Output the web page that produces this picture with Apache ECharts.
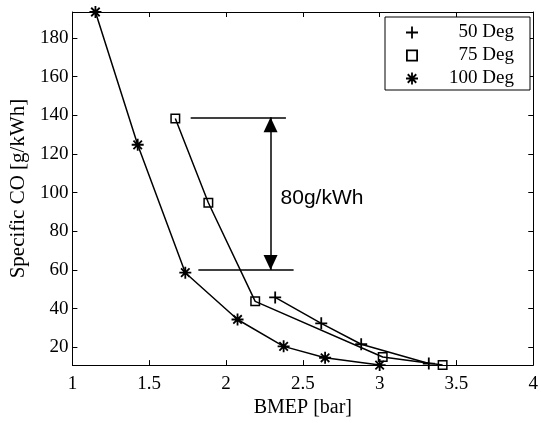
<!DOCTYPE html>
<html>
<head>
<meta charset="utf-8">
<script src="https://cdn.jsdelivr.net/npm/echarts@6/dist/echarts.min.js"></script>
<style>html,body{margin:0;padding:0;background:#fff;}#c{width:541px;height:423px;}</style>
</head>
<body>
<div id="c"></div>
<script>
// ---- data ----
const seriesNames = ['50 Deg', '75 Deg', '100 Deg'];
const bmep50 = [2.32, 2.62, 2.88, 3.32];
const co50 = [45.8, 32.4, 21.6, 11.6];
const bmep75 = [1.67, 1.885, 2.19, 3.02, 3.41];
const co75 = [138.4, 94.8, 43.8, 15.0, 10.8];
const bmep100 = [1.15, 1.425, 1.735, 2.075, 2.375, 2.645, 3.0];
const co100 = [193.5, 124.8, 58.6, 34.4, 20.5, 14.6, 10.8];
const yTicks = [20, 40, 60, 80, 100, 120, 140, 160, 180];
// annotation (data units)
const annoTopY = 139, annoBottomY = 60;
const annoTopX = [1.77, 2.39];
const annoBottomX = [1.82, 2.44];
const annoArrowX = 2.29;
const annoText = '80g/kWh';
const annoTextPos = [2.355, 97];

const pts = (xs, ys) => xs.map((x, i) => [x, ys[i]]);
const allY = co50.concat(co75, co100);
const yMin = Math.min.apply(null, allY);
const yMax = Math.max.apply(null, allY);

const SYM_PLUS = 'path://M5.1 0H6.9V5.1H12V6.9H6.9V12H5.1V6.9H0V5.1H5.1Z';
const SYM_SQ = 'path://M0 0H10V10H0Z M1.5 1.5V8.5H8.5V1.5Z';
const SYM_STAR = 'path://M5.1 0H6.9V5.1H12V6.9H6.9V12H5.1V6.9H0V5.1H5.1Z' +
  ' M1.121 2.393L2.393 1.121L10.879 9.607L9.607 10.879Z' +
  ' M10.879 2.393L2.393 10.879L1.121 9.607L9.607 1.121Z';
const symbols = [SYM_PLUS, SYM_SQ, SYM_STAR];
const symSizes = [12, 10, 12];

const serif = 'Liberation Serif';
const chart = echarts.init(document.getElementById('c'));

const axisCommon = {
  axisLine: { show: true, onZero: false, lineStyle: { color: '#000', width: 1 } },
  axisTick: { inside: true, length: 5, lineStyle: { color: '#000', width: 1 } },
  splitLine: { show: false }
};

const lineSeries = (name, data, idx, extra) => Object.assign({
  name: name,
  type: 'line',
  data: data,
  symbol: symbols[idx],
  symbolSize: symSizes[idx],
  showAllSymbol: true,
  lineStyle: { color: '#000', width: 1.5 },
  itemStyle: { color: '#000' },
  animation: false,
  z: 3
}, extra || {});

chart.setOption({
  animation: false,
  backgroundColor: '#fff',
  grid: { left: 68, right: 6, top: 12, bottom: 44, containLabel: false },
  xAxis: [
    Object.assign({}, axisCommon, {
      type: 'value', min: 1, max: 4, interval: 0.5, position: 'bottom',
      axisLabel: { color: '#000', fontFamily: serif, fontSize: 19, margin: 9 },
      name: 'BMEP [bar]', nameLocation: 'middle', nameGap: 28,
      nameTextStyle: { color: '#000', fontFamily: serif, fontSize: 20 }
    }),
    Object.assign({}, axisCommon, {
      type: 'value', min: 1, max: 4, interval: 0.5, position: 'top',
      axisLabel: { show: false }
    })
  ],
  yAxis: [
    Object.assign({}, axisCommon, {
      type: 'value', min: yMin, max: yMax, position: 'left',
      axisTick: Object.assign({}, axisCommon.axisTick, { customValues: yTicks }),
      axisLabel: { color: '#000', fontFamily: serif, fontSize: 19, margin: 4, customValues: yTicks },
      name: 'Specific CO [g/kWh]', nameLocation: 'middle', nameGap: 31,
      nameTextStyle: { color: '#000', fontFamily: serif, fontSize: 21 }
    }),
    Object.assign({}, axisCommon, {
      type: 'value', min: yMin, max: yMax, position: 'right',
      axisTick: Object.assign({}, axisCommon.axisTick, { customValues: yTicks }),
      axisLabel: { show: false, customValues: yTicks }
    })
  ],
  legend: {
    orient: 'vertical', right: 11, top: 17,
    padding: [6, 16, 2, 21],
    itemGap: 4, itemWidth: 12, itemHeight: 12,
    borderColor: '#000', borderWidth: 1, backgroundColor: '#fff',
    data: seriesNames.map((n, i) => ({ name: n, icon: symbols[i], itemStyle: { color: '#000' } })),
    formatter: n => '{t|' + n + '}',
    textStyle: { rich: { t: { width: 91, align: 'right', fontFamily: serif, fontSize: 19, lineHeight: 20, color: '#000' } } },
    selectedMode: false
  },
  series: [
    lineSeries(seriesNames[0], pts(bmep50, co50), 0),
    lineSeries(seriesNames[1], pts(bmep75, co75), 1, {
      markLine: {
        silent: true, animation: false,
        label: { show: false },
        lineStyle: { color: '#000', width: 1.5, type: 'solid' },
        symbol: ['none', 'none'],
        data: [
          [{ coord: [annoTopX[0], annoTopY] }, { coord: [annoTopX[1], annoTopY] }],
          [{ coord: [annoBottomX[0], annoBottomY] }, { coord: [annoBottomX[1], annoBottomY] }],
          [{ coord: [annoArrowX, annoTopY], symbol: 'triangle', symbolSize: [14, 15], symbolOffset: [0, 7.5] },
           { coord: [annoArrowX, annoBottomY], symbol: 'triangle', symbolSize: [14, 15], symbolOffset: [0, 7.5] }]
        ]
      },
      markPoint: {
        silent: true, animation: false,
        symbol: 'circle', symbolSize: 0,
        label: { show: true, position: 'right', distance: 0, formatter: annoText,
                 color: '#000', fontFamily: 'Liberation Sans', fontSize: 21 },
        data: [{ coord: annoTextPos }]
      }
    }),
    lineSeries(seriesNames[2], pts(bmep100, co100), 2)
  ]
});
</script>
</body>
</html>
